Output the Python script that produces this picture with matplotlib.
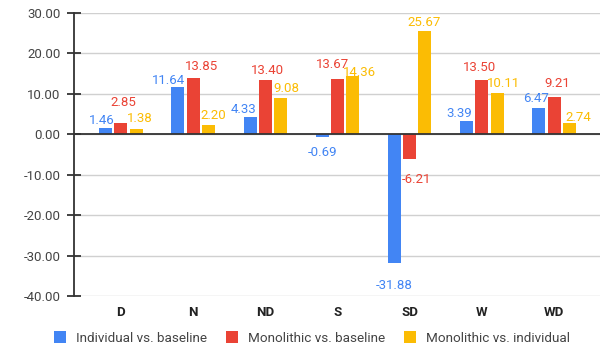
import numpy as np
import matplotlib.pyplot as plt

# ---- data ----
categories = ['D', 'N', 'ND', 'S', 'SD', 'W', 'WD']
series_names = ['Individual vs. baseline', 'Monolithic vs. baseline', 'Monolithic vs. individual']
indiv_vs_base = [1.46, 11.64, 4.33, -0.69, -31.88, 3.39, 6.47]
mono_vs_base = [2.85, 13.85, 13.40, 13.67, -6.21, 13.50, 9.21]
mono_vs_indiv = [1.38, 2.20, 9.08, 14.36, 25.67, 10.11, 2.74]
y_ticks = [-40, -30, -20, -10, 0, 10, 20, 30]

colors = ['#4285F4', '#EA4335', '#FBBC04']

# label nudges in pixels (dx, dy from the bar end), so crowded labels don't collide
label_dx = [
    [-4, -9, -7, 0, 0, -7, -3],
    [2, 8, 2, -5, 7, -2, 3],
    [4, 5, 6, 7, -1, 6, 9],
]
label_dy = [
    [8, 7, 7.5, -15, -22, 7, 10],
    [20, 12, 10, 15, -20, 12.5, 14],
    [10, 10, 9, 4, 8, 10, 6],
]

plt.rcParams['font.family'] = ['Roboto', 'DejaVu Sans']

fig = plt.figure(figsize=(6.0, 3.51), dpi=100)
ax = fig.add_axes([74 / 600, 1 - 296 / 351, 1 - 74 / 600, (296 - 13) / 351])

x = np.arange(len(categories))
step = 0.212
width = 0.18
all_series = [indiv_vs_base, mono_vs_base, mono_vs_indiv]

px2pt = 72 / 100
for i, vals in enumerate(all_series):
    xs = x + (i - 1) * step
    ax.bar(xs, vals, width=width, color=colors[i], label=series_names[i], zorder=3)
    for j, v in enumerate(vals):
        ax.annotate(f'{v:.2f}', xy=(xs[j], v),
                    xytext=(label_dx[i][j] * px2pt, label_dy[i][j] * px2pt),
                    textcoords='offset points', ha='center', va='center',
                    fontsize=9.5, color=colors[i], zorder=4)

ax.set_xlim(-0.651, 6.637)
ax.set_ylim(-40, 30)
ax.set_yticks(y_ticks)
ax.set_yticklabels([f'{t:.2f}' for t in y_ticks])
ax.set_xticks(x)
ax.set_xticklabels(categories, fontweight='bold')

ax.grid(axis='y', color='#d0d0d0', linewidth=1.0, zorder=0)
ax.axhline(0, color='#333333', linewidth=1.3, zorder=5)

for side in ['top', 'right', 'bottom']:
    ax.spines[side].set_visible(False)
ax.spines['left'].set_color('#333333')
ax.spines['left'].set_linewidth(1.3)
ax.spines['left'].set_zorder(5)

ax.tick_params(axis='y', direction='inout', length=9.5, width=1.3, color='#333333',
               labelsize=9.5, labelcolor='#444444', pad=5)
ax.tick_params(axis='x', length=0, labelsize=9.5, labelcolor='#222222', pad=7)

fig.legend(loc='center', bbox_to_anchor=(312 / 600, 1 - 338 / 351), ncol=3, frameon=False,
           fontsize=9.7, handlelength=0.9, handleheight=0.9, handletextpad=0.75,
           columnspacing=1.4, labelcolor='#444444')

fig.savefig('out.png', dpi=100)
